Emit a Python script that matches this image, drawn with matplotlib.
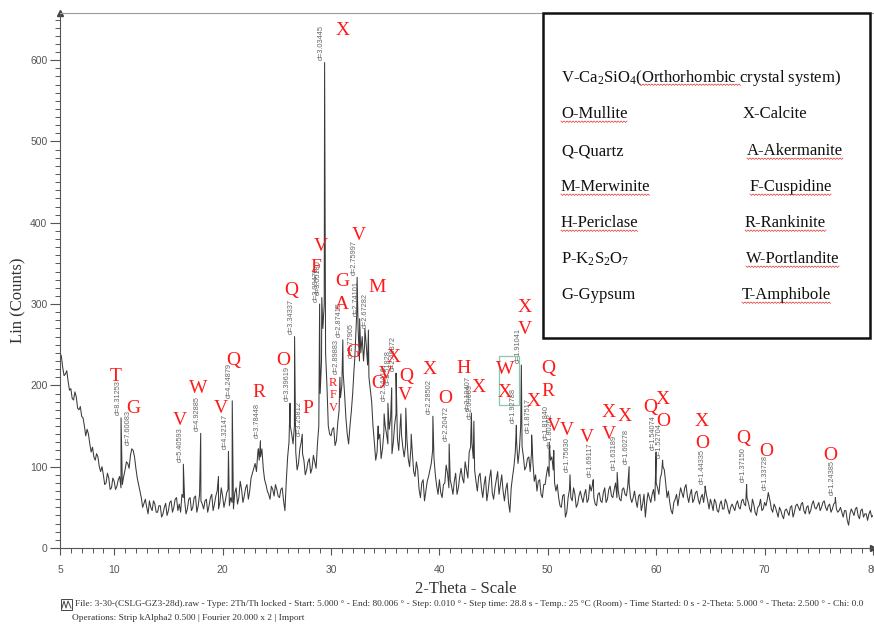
import numpy as np
import matplotlib.pyplot as plt
from matplotlib.patches import Rectangle
from matplotlib.lines import Line2D

plt.rcParams['mathtext.fontset'] = 'custom'
plt.rcParams['mathtext.rm'] = 'Liberation Serif'
plt.rcParams['mathtext.it'] = 'Liberation Serif:italic'

# background counts, one value every 0.25 deg from 5.00 to 80.00
base_counts = [
    240, 222, 214, 205,   # 5
    196, 182, 186, 170,   # 6
    162, 150, 146, 128,   # 7
    124, 108, 112, 94,    # 8
    90, 80, 86, 74,       # 9
    82, 76, 88, 78,       # 10
    96, 104, 114, 120,    # 11
    98, 78, 62, 55,       # 12
    50, 58, 46, 54,       # 13
    44, 52, 42, 55,       # 14
    46, 58, 50, 62,       # 15
    54, 66, 58, 48,       # 16
    62, 50, 64, 52,       # 17
    58, 48, 60, 52,       # 18
    66, 54, 70, 56,       # 19
    64, 58, 72, 62,       # 20
    48, 74, 62, 72,       # 21
    64, 78, 70, 92,       # 22
    104, 118, 112, 98,    # 23
    78, 66, 76, 64,       # 24
    72, 62, 74, 46,       # 25
    112, 150, 128, 118,   # 26
    104, 130, 108, 96,    # 27
    110, 98, 106, 128,    # 28
    190, 270, 240, 150,   # 29
    138, 148, 132, 170,   # 30
    200, 190, 140, 150,   # 31
    190, 250, 270, 240,   # 32
    230, 250, 210, 180,   # 33
    130, 118, 140, 122,   # 34
    150, 128, 160, 130,   # 35
    165, 120, 140, 112,   # 36
    135, 100, 118, 88,    # 37
    96, 62, 84, 70,       # 38
    88, 104, 110, 76,     # 39
    84, 62, 80, 92,       # 40
    84, 66, 92, 74,       # 41
    98, 80, 96, 118,      # 42
    130, 96, 70, 92,      # 43
    62, 88, 70, 96,       # 44
    60, 84, 66, 90,       # 45
    58, 80, 44, 88,       # 46
    118, 104, 150, 112,   # 47
    100, 112, 118, 82,    # 48
    70, 84, 62, 78,       # 49
    100, 108, 96, 70,     # 50
    62, 50, 66, 44,       # 51
    72, 58, 66, 54,       # 52
    70, 56, 72, 60,       # 53
    70, 62, 52, 68,       # 54
    56, 74, 60, 76,       # 55
    62, 80, 70, 58,       # 56
    74, 64, 80, 56,       # 57
    70, 50, 66, 54,       # 58
    38, 68, 56, 72,       # 59
    80, 66, 92, 96,       # 60
    62, 56, 42, 60,       # 61
    52, 74, 62, 78,       # 62
    56, 72, 60, 70,       # 63
    54, 66, 70, 58,       # 64
    60, 46, 56, 44,       # 65
    58, 48, 56, 42,       # 66
    54, 46, 58, 48,       # 67
    60, 52, 56, 44,       # 68
    54, 40, 52, 46,       # 69
    56, 60, 58, 44,       # 70
    50, 38, 46, 36,       # 71
    48, 40, 52, 44,       # 72
    54, 46, 56, 42,       # 73
    52, 46, 58, 48,       # 74
    56, 50, 58, 46,       # 75
    54, 48, 56, 44,       # 76
    50, 38, 46, 28,       # 77
    48, 40, 50, 36,       # 78
    48, 42, 34, 46,       # 79
    40,                   # 80
]
# in-between readings at x.125, x.375, x.625, x.875
mid_counts = [
    236, 212, 218, 194,   # 5
    184, 192, 172, 174,   # 6
    160, 138, 140, 118,   # 7
    112, 116, 100, 100,   # 8
    78, 92, 72, 86,       # 9
    72, 84, 74, 88,       # 10
    106, 98, 122, 112,    # 11
    86, 70, 50, 60,       # 12
    42, 50, 58, 44,       # 13
    52, 38, 50, 40,       # 14
    56, 44, 60, 46,       # 15
    44, 62, 42, 60,       # 16
    46, 62, 44, 66,       # 17
    54, 58, 44, 62,       # 18
    46, 64, 48, 74,       # 19
    50, 68, 52, 56,       # 20
    68, 54, 82, 56,       # 21
    74, 60, 86, 98,       # 22
    94, 108, 122, 84,     # 23
    70, 60, 72, 78,       # 24
    64, 72, 58, 82,       # 25
    130, 140, 150, 96,    # 26
    122, 116, 90, 106,    # 27
    92, 114, 98, 150,     # 28
    230, 300, 200, 140,   # 29
    146, 126, 154, 185,   # 30
    215, 160, 128, 168,   # 31
    220, 290, 230, 260,   # 32
    270, 225, 195, 150,   # 33
    108, 134, 110, 142,   # 34
    140, 146, 116, 152,   # 35
    135, 150, 124, 126,   # 36
    110, 124, 94, 106,    # 37
    72, 80, 58, 82,       # 38
    96, 120, 90, 66,      # 39
    68, 78, 102, 74,      # 40
    76, 82, 66, 88,       # 41
    86, 106, 86, 124,     # 42
    110, 82, 88, 74,      # 43
    78, 58, 86, 68,       # 44
    74, 94, 78, 70,       # 45
    72, 56, 74, 100,      # 46
    130, 120, 125, 96,    # 47
    110, 94, 106, 90,     # 48
    82, 66, 78, 90,       # 49
    88, 112, 80, 78,      # 50
    52, 64, 38, 62,       # 51
    62, 74, 50, 64,       # 52
    62, 66, 56, 78,       # 53
    78, 54, 66, 58,       # 54
    68, 56, 72, 64,       # 55
    72, 62, 60, 72,       # 56
    66, 76, 62, 62,       # 57
    58, 64, 46, 66,       # 58
    56, 62, 66, 58,       # 59
    74, 86, 100, 80,      # 60
    70, 46, 56, 66,       # 61
    64, 68, 74, 64,       # 62
    66, 56, 68, 60,       # 63
    62, 56, 66, 48,       # 64
    54, 60, 46, 54,       # 65
    48, 60, 48, 50,       # 66
    50, 54, 50, 58,       # 67
    54, 62, 48, 60,       # 68
    44, 50, 60, 48,       # 69
    52, 66, 48, 54,       # 70
    44, 50, 40, 46,       # 71
    44, 50, 38, 52,       # 72
    50, 54, 46, 50,       # 73
    42, 54, 50, 52,       # 74
    46, 56, 50, 52,       # 75
    44, 54, 48, 46,       # 76
    44, 46, 34, 42,       # 77
    44, 48, 40, 46,       # 78
    38, 42, 42, 38,       # 79
]
base_theta = 5.0 + 0.25 * np.arange(len(base_counts))
mid_theta = 5.125 + 0.25 * np.arange(len(mid_counts))

# sharp reflections (2-theta, counts)
peak_theta = [10.63, 16.38, 17.98, 19.62, 20.54, 20.89, 23.30, 23.49, 26.22, 26.64,
              27.35, 28.95, 29.15, 29.41, 30.82, 31.09, 32.18, 32.41, 32.64, 33.10,
              33.45, 34.35, 34.90, 35.25, 35.60, 36.00, 36.45, 36.90, 37.40, 39.40,
              40.90, 42.95, 43.18, 47.10, 47.56, 48.51, 50.13, 50.55, 52.05, 54.19,
              56.40, 57.50, 59.99, 60.59, 64.51, 68.34, 70.34, 76.53]
peak_counts = [160, 103, 141, 88, 119, 181, 122, 132, 178, 260,
               140, 300, 308, 597, 210, 256, 230, 333, 282, 250,
               268, 150, 165, 178, 197, 215, 165, 172, 140, 162,
               128, 166, 156, 151, 225, 139, 130, 120, 90, 84,
               93, 100, 118, 108, 76, 78, 68, 62]

# d-spacing tags written above the peaks
d_text = ['d=8.31253', 'd=7.60083', 'd=5.40593', 'd=4.92885', 'd=4.32147', 'd=4.24879',
          'd=3.78448', 'd=3.39619', 'd=3.34337', 'd=3.25812', 'd=3.09470', 'd=3.05180',
          'd=3.03445', 'd=2.89883', 'd=2.87415', 'd=2.77905', 'd=2.75997', 'd=2.74101',
          'd=2.67282', 'd=2.54416', 'd=2.51828', 'd=2.46372', 'd=2.28502', 'd=2.20472',
          'd=2.10407', 'd=2.09069', 'd=1.92788', 'd=1.91041', 'd=1.87517', 'd=1.81840',
          'd=1.80262', 'd=1.75630', 'd=1.69117', 'd=1.63189', 'd=1.60278', 'd=1.54074',
          'd=1.52704', 'd=1.44335', 'd=1.37150', 'd=1.33728', 'd=1.24385']
d_theta = [10.63, 11.63, 16.38, 17.98, 20.54, 20.89, 23.49, 26.22, 26.64, 27.35, 28.95, 29.15,
           29.41, 30.82, 31.09, 32.18, 32.41, 32.64, 33.45, 35.25, 35.60, 36.00, 39.40, 40.90,
           42.95, 43.18, 47.10, 47.56, 48.51, 50.13, 50.55, 52.05, 54.19, 56.40, 57.50, 59.99,
           60.59, 64.51, 68.34, 70.34, 76.53]
d_counts = [161, 125, 104, 142, 120, 182, 133, 179, 261, 136, 301, 309,
            598, 212, 257, 232, 334, 283, 269, 179, 198, 216, 163, 129,
            167, 157, 152, 226, 140, 131, 121, 91, 85, 94, 101, 119,
            109, 77, 79, 69, 63]

# phase letters (letter, 2-theta, counts)
phase_letter = ['T', 'G', 'V', 'W', 'V', 'Q', 'R', 'O', 'Q', 'P', 'F', 'V', 'X', 'G', 'A',
                'V', 'M', 'G', 'O', 'V', 'X', 'Q', 'V', 'X', 'O', 'H', 'X', 'W', 'X', 'X',
                'V', 'X', 'Q', 'R', 'V', 'V', 'V', 'X', 'V', 'X', 'Q', 'X', 'O', 'X', 'O',
                'Q', 'O', 'O']
letter_theta = [10.17, 11.73, 16.07, 17.73, 19.85, 20.96, 23.36, 25.57, 26.31, 27.88, 28.62,
                29.08, 31.11, 31.01, 31.01, 32.58, 34.24, 32.03, 34.34, 35.07, 35.81, 36.92,
                36.83, 39.13, 40.52, 42.27, 43.65, 46.05, 46.05, 47.90, 47.90, 48.73, 50.02,
                50.02, 50.57, 51.77, 53.62, 55.65, 55.65, 57.12, 59.43, 60.63, 60.63, 64.23,
                64.23, 68.01, 70.13, 76.03]
letter_counts = [211, 172, 157, 196, 171, 230, 191, 231, 317, 171, 345, 371, 636, 328, 300,
                 384, 321, 240, 202, 214, 234, 211, 187, 219, 184, 221, 197, 219, 191, 296,
                 269, 180, 221, 192, 150, 144, 136, 167, 140, 162, 173, 183, 155, 155, 129,
                 135, 119, 114]
small_letters = ['R', 'F', 'V']
small_theta = 30.18
small_counts = [203, 188, 172]

legend_left = ['V-Ca$_{\\rm 2}$SiO$_{\\rm 4}$(Orthorhombic crystal system)', 'O-Mullite',
               'Q-Quartz', 'M-Merwinite', 'H-Periclase',
               'P-K$_{\\rm 2}$S$_{\\rm 2}$O$_{\\rm 7}$', 'G-Gypsum']
legend_right = ['', 'X-Calcite', 'A-Akermanite', 'F-Cuspidine', 'R-Rankinite',
                'W-Portlandite', 'T-Amphibole']

# ---------------------------------------------------------------------------
W, H = 874, 626
fig = plt.figure(figsize=(W / 100, H / 100), dpi=100)
fig.patch.set_facecolor('white')
ax = fig.add_axes([60 / W, 1 - 548 / H, 813 / W, 535 / H])

theta = np.concatenate([base_theta, mid_theta, peak_theta])
counts = np.concatenate([base_counts, mid_counts, peak_counts])
order = np.argsort(theta)
ax.plot(theta[order], counts[order], color='#3a3a3a', lw=0.75)

ax.set_xlim(5, 80)
ax.set_ylim(0, 658)
ax.set_xticks([5, 10, 20, 30, 40, 50, 60, 70, 80])
ax.set_xticks(np.arange(5, 81, 1), minor=True)
ax.set_yticks(np.arange(0, 601, 100))
ax.set_yticks(np.arange(0, 651, 10), minor=True)
ax.tick_params(axis='both', which='major', labelsize=7.5, labelcolor='#555555',
               color='#555555', width=0.8)
ax.tick_params(axis='x', which='major', length=5, pad=7)
ax.tick_params(axis='y', which='major', length=7, pad=2)
ax.tick_params(axis='x', which='minor', length=3.5, color='#555555', width=0.7)
ax.tick_params(axis='y', which='minor', length=3.5, color='#555555', width=0.7)
for lab in ax.get_xticklabels() + ax.get_yticklabels():
    lab.set_family('Liberation Sans')
ax.spines['right'].set_visible(False)
for s in ['left', 'bottom', 'top']:
    ax.spines[s].set_color('#555555')
    ax.spines[s].set_linewidth(0.8)
ax.spines['top'].set_color('#9a9a9a')
ax.plot([5], [658], marker='^', color='#444444', ms=4, clip_on=False)
ax.plot([80], [0], marker='>', color='#444444', ms=4, clip_on=False)

# d-spacing tags
for t, x, y in zip(d_text, d_theta, d_counts):
    ax.text(x - 0.3, y + 2, t, rotation=90, ha='center', va='bottom', fontsize=5.3,
            color='#666666', family='Liberation Sans')

# phase letters
for t, x, y in zip(phase_letter, letter_theta, letter_counts):
    ax.text(x, y, t, ha='center', va='center', fontsize=14, color='#ff1a1a',
            family='Liberation Serif')
for t, y in zip(small_letters, small_counts):
    ax.text(small_theta, y, t, ha='center', va='center', fontsize=9, color='#ff1a1a',
            family='Liberation Serif')

ax.add_patch(Rectangle((45.5, 176), 1.85, 60, fill=False, ec='#86c9ad', lw=0.9))

# axis titles and footer
fig.text(18 / W, 1 - 300 / H, 'Lin (Counts)', rotation=90, ha='center', va='center',
         fontsize=12, family='Liberation Serif', color='#333333')
fig.text(466 / W, 1 - 589 / H, '2-Theta - Scale', ha='center', va='center',
         fontsize=12, family='Liberation Serif', color='#333333')
fig.text(75 / W, 1 - 604 / H,
         'File: 3-30-(CSLG-GZ3-28d).raw - Type: 2Th/Th locked - Start: 5.000 \u00b0 - '
         'End: 80.006 \u00b0 - Step: 0.010 \u00b0 - Step time: 28.8 s - Temp.: 25 \u00b0C (Room) - '
         'Time Started: 0 s - 2-Theta: 5.000 \u00b0 - Theta: 2.500 \u00b0 - Chi: 0.0',
         ha='left', va='center', fontsize=6.75, family='Liberation Serif', color='#333333')
fig.text(72 / W, 1 - 618 / H, 'Operations: Strip kAlpha2 0.500 | Fourier 20.000 x 2 | Import',
         ha='left', va='center', fontsize=6.75, family='Liberation Serif', color='#333333')
fig.add_artist(Rectangle((61 / W, 1 - 610 / H), 11 / W, 11 / H, fill=False, ec='#444444',
                         lw=0.7, transform=fig.transFigure))
fig.add_artist(Line2D(np.array([62, 64, 66, 68, 71]) / W,
                      1 - np.array([608, 601, 608, 601, 608]) / H,
                      color='#444444', lw=0.7, transform=fig.transFigure))

# legend box
fig.add_artist(Rectangle((543 / W, 1 - 338 / H), 327 / W, 325 / H, fill=True, fc='white',
                         ec='#111111', lw=1.8, transform=fig.transFigure, zorder=5))
row_y = [78, 114, 151, 187, 223, 259, 295]
right_x = [0, 743, 747, 750, 745, 746, 742]
texts = []
for i, (lt, rt) in enumerate(zip(legend_left, legend_right)):
    t1 = fig.text(561 / W, 1 - row_y[i] / H, lt, ha='left', va='center', fontsize=12,
                  family='Liberation Serif', color='#111111', zorder=6)
    texts.append(t1)
    if rt:
        t2 = fig.text(right_x[i] / W, 1 - row_y[i] / H, rt, ha='left', va='center',
                      fontsize=12, family='Liberation Serif', color='#111111', zorder=6)
        texts.append(t2)

# red spell-check squiggles under some names
fig.canvas.draw()
rend = fig.canvas.get_renderer()
squiggle = [(640, 742, 84)]
for t in texts:
    s = t.get_text()
    if s.split('-')[-1] in ['Mullite', 'Akermanite', 'Merwinite', 'Cuspidine', 'Periclase',
                            'Rankinite', 'Portlandite', 'Amphibole']:
        bb = t.get_window_extent(rend)
        squiggle.append((bb.x0, bb.x1, H - bb.y0 - 1))
for x0, x1, yy in squiggle:
    xs = np.arange(x0, x1, 1.5)
    ys = yy + np.where(np.arange(len(xs)) % 2 == 0, 0.0, 1.4)
    fig.add_artist(Line2D(xs / W, 1 - ys / H, color='#e03030', lw=0.5,
                          transform=fig.transFigure, zorder=7))

fig.savefig('out.png', dpi=100)
